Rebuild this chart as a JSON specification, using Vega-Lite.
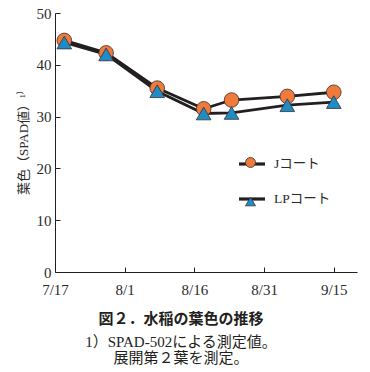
{
  "$schema": "https://vega.github.io/schema/vega-lite/v6.json",
  "width": 302,
  "height": 259,
  "autosize": {"type": "none"},
  "padding": {"left": 55, "top": 13, "right": 13, "bottom": 100},
  "background": "white",
  "config": {
    "view": {"stroke": null},
    "font": "Liberation Serif, Noto Sans CJK JP",
    "axis": {"domainColor": "#231f20", "tickColor": "#231f20", "labelColor": "#2b2b2b", "titleColor": "#2b2b2b", "grid": false}
  },
  "title": {
    "text": "図２．水稲の葉色の推移",
    "orient": "bottom",
    "anchor": "middle",
    "dx": -25,
    "offset": 15,
    "font": "Noto Sans CJK JP",
    "fontSize": 15,
    "fontWeight": "bold",
    "color": "#231f20",
    "subtitle": ["1）SPAD-502による測定値。", "展開第２葉を測定。 "],
    "subtitleFont": "Liberation Serif, Noto Sans CJK JP",
    "subtitleFontSize": 15,
    "subtitleColor": "#231f20",
    "subtitlePadding": 8,
    "subtitleLineHeight": 16
  },
  "data": {
    "values": [
      {"date": "2004-07-19", "series": "Jコート", "spad": 44.7},
      {"date": "2004-07-28", "series": "Jコート", "spad": 42.3},
      {"date": "2004-08-08", "series": "Jコート", "spad": 35.5},
      {"date": "2004-08-18", "series": "Jコート", "spad": 31.5},
      {"date": "2004-08-24", "series": "Jコート", "spad": 33.2},
      {"date": "2004-09-05", "series": "Jコート", "spad": 33.9},
      {"date": "2004-09-15", "series": "Jコート", "spad": 34.7},
      {"date": "2004-07-19", "series": "LPコート", "spad": 44.3},
      {"date": "2004-07-28", "series": "LPコート", "spad": 42.0},
      {"date": "2004-08-08", "series": "LPコート", "spad": 34.9},
      {"date": "2004-08-18", "series": "LPコート", "spad": 30.6},
      {"date": "2004-08-24", "series": "LPコート", "spad": 30.7},
      {"date": "2004-09-05", "series": "LPコート", "spad": 32.2},
      {"date": "2004-09-15", "series": "LPコート", "spad": 32.8}
    ]
  },
  "encoding": {
    "x": {
      "field": "date",
      "type": "temporal",
      "scale": {
        "type": "utc",
        "domain": [
          {"year": 2004, "month": 7, "date": 17, "utc": true},
          {"year": 2004, "month": 9, "date": 20, "utc": true}
        ]
      },
      "axis": {
        "title": null,
        "values": [
          {"year": 2004, "month": 7, "date": 17, "utc": true},
          {"year": 2004, "month": 8, "date": 1, "utc": true},
          {"year": 2004, "month": 8, "date": 16, "utc": true},
          {"year": 2004, "month": 8, "date": 31, "utc": true},
          {"year": 2004, "month": 9, "date": 15, "utc": true}
        ],
        "labelExpr": "utcFormat(datum.value, '%-m/%-d')",
        "tickSize": -5,
        "labelPadding": 15,
        "labelFontSize": 15,
        "labelAngle": 0,
        "labelFlush": false,
        "labelOverlap": false
      }
    },
    "y": {
      "field": "spad",
      "type": "quantitative",
      "scale": {"domain": [0, 50], "nice": false, "zero": true},
      "axis": {
        "title": "葉色（SPAD値）¹⁾",
        "titleFontSize": 13,
        "titleFontWeight": "normal",
        "titlePadding": 6,
        "values": [0, 10, 20, 30, 40, 50],
        "tickSize": -5,
        "labelPadding": 9,
        "labelFontSize": 15
      }
    }
  },
  "layer": [
    {
      "mark": {"type": "line", "strokeWidth": 2.8},
      "encoding": {
        "stroke": {
          "field": "series",
          "type": "nominal",
          "scale": {"domain": ["Jコート", "LPコート"], "range": ["#231f20", "#231f20"]},
          "legend": {
            "orient": "none",
            "legendX": 182,
            "legendY": 136,
            "title": null,
            "padding": 0,
            "symbolType": "stroke",
            "symbolSize": 676,
            "symbolStrokeWidth": 3.2,
            "rowPadding": 13,
            "labelFontSize": 13.5,
            "labelColor": "#2b2b2b",
            "labelOffset": 7,
            "labelFont": "Liberation Serif, Noto Sans CJK JP",
            "zindex": 1
          }
        }
      }
    },
    {
      "mark": {"type": "point", "filled": true, "size": 215, "stroke": "#3a3030", "strokeWidth": 0.8, "opacity": 1},
      "encoding": {
        "fill": {
          "field": "series",
          "type": "nominal",
          "scale": {"range": ["#ee7a3c", "#1f8cc6"]},
          "legend": {
            "orient": "none",
            "legendX": 190,
            "legendY": 144,
            "title": null,
            "padding": 0,
            "symbolSize": 100,
            "symbolStrokeColor": "#3a3030",
            "symbolStrokeWidth": 0.8,
            "symbolOpacity": 1,
            "rowPadding": 25,
            "labelExpr": "''",
            "labelFontSize": 1,
            "labelOffset": 0,
            "zindex": 2
          }
        },
        "shape": {
          "field": "series",
          "type": "nominal",
          "scale": {"range": ["circle", "triangle-up"]},
          "legend": {
            "orient": "none",
            "legendX": 190,
            "legendY": 144,
            "title": null,
            "padding": 0,
            "symbolSize": 100,
            "rowPadding": 25,
            "labelExpr": "''",
            "labelFontSize": 1,
            "labelOffset": 0,
            "zindex": 2
          }
        }
      }
    }
  ]
}
